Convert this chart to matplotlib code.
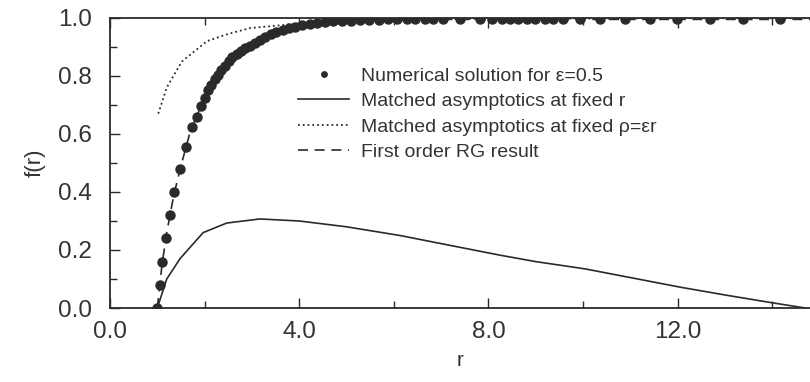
import numpy as np
import matplotlib.pyplot as plt
from matplotlib.ticker import MultipleLocator, FormatStrFormatter
from matplotlib.legend_handler import HandlerLine2D

plt.rcParams['font.family'] = ['Liberation Sans', 'DejaVu Sans']

# numerical solution for eps = 0.5
num_r = [1.00, 1.05, 1.11, 1.19, 1.27, 1.36, 1.47, 1.60, 1.74, 1.83, 1.92, 2.00,
         2.07, 2.14, 2.21, 2.28, 2.35, 2.43, 2.51, 2.59, 2.68, 2.77, 2.86, 2.96,
         3.06, 3.17, 3.28, 3.40, 3.52, 3.65, 3.78, 3.92, 4.07, 4.22, 4.38, 4.55,
         4.72, 4.90, 5.09, 5.28, 5.48, 5.68, 5.88, 6.07, 6.28, 6.45, 6.66, 6.83,
         7.04, 7.40, 7.82, 8.08, 8.29, 8.46, 8.63, 8.82, 8.99, 9.20, 9.37, 9.58,
         9.94, 10.36, 10.89, 11.42, 11.99, 12.68, 13.38, 14.16]
num_f = [0.00, 0.08, 0.16, 0.24, 0.32, 0.40, 0.48, 0.555, 0.625, 0.66, 0.695, 0.725,
         0.75, 0.77, 0.79, 0.805, 0.82, 0.835, 0.85, 0.865, 0.875, 0.885, 0.895, 0.905,
         0.915, 0.925, 0.935, 0.945, 0.952, 0.958, 0.964, 0.97, 0.975, 0.98, 0.983, 0.986,
         0.988, 0.99, 0.991, 0.992, 0.993, 0.994, 0.995, 0.995, 0.995, 0.995, 0.995, 0.995,
         0.995, 0.995, 0.995, 0.995, 0.995, 0.995, 0.995, 0.995, 0.995, 0.995, 0.995, 0.995,
         0.995, 0.995, 0.995, 0.995, 0.995, 0.995, 0.995, 0.995]

# matched asymptotics at fixed r
fixr_r = [1.0, 1.2, 1.48, 1.97, 2.47, 3.17, 4.0, 5.0, 6.13, 7.0, 8.25, 9.0, 10.04, 11.0, 12.05, 13.0, 14.0, 14.7]
fixr_f = [0.0, 0.10, 0.17, 0.26, 0.293, 0.307, 0.30, 0.28, 0.25, 0.222, 0.182, 0.16, 0.135, 0.105, 0.072, 0.045, 0.018, 0.0]

# matched asymptotics at fixed rho = eps r
fixrho_r = [1.02, 1.2, 1.52, 2.05, 2.5, 2.96, 3.95, 5.0, 6.0, 8.0, 10.0, 12.0, 14.8]
fixrho_f = [0.67, 0.76, 0.85, 0.92, 0.945, 0.965, 0.98, 0.99, 0.995, 0.997, 0.998, 0.999, 0.999]

# first order RG result
rg_r = [1.0, 1.1, 1.2, 1.35, 1.5, 1.7, 2.0, 2.5, 3.0, 3.5, 4.0, 5.0, 6.0, 8.0, 10.0, 12.0, 14.8]
rg_f = [0.0, 0.15, 0.26, 0.39, 0.49, 0.61, 0.725, 0.845, 0.91, 0.95, 0.974, 0.99, 0.995, 0.995, 0.995, 0.995, 0.995]


class RightDot(HandlerLine2D):
    # put the legend dot near the text, like the original figure
    def get_xdata(self, legend, xdescent, ydescent, width, height, fontsize):
        xdata = np.array([-xdescent, -xdescent + width])
        return xdata, np.array([-xdescent + 0.9 * width])


c = '#2a2a2a'
fig = plt.figure(figsize=(8.1, 3.82), dpi=100)
ax = fig.add_axes([0.1358, 0.1937, 0.8642, 0.7593])

dots, = ax.plot(num_r, num_f, 'o', color=c, markersize=6.5, label='Numerical solution for ε=0.5', zorder=3)
ax.plot(fixr_r, fixr_f, '-', color=c, lw=1.2, label='Matched asymptotics at fixed r')
ax.plot(fixrho_r, fixrho_f, ':', color=c, lw=1.3, label='Matched asymptotics at fixed ρ=εr')
ax.plot(rg_r, rg_f, '--', color=c, lw=1.2, dashes=(6, 4), label='First order RG result')

ax.set_xlim(0, 14.8)
ax.set_ylim(0, 1.0)
ax.xaxis.set_major_locator(MultipleLocator(4))
ax.xaxis.set_minor_locator(MultipleLocator(2))
ax.yaxis.set_major_locator(MultipleLocator(0.2))
ax.yaxis.set_minor_locator(MultipleLocator(0.1))
ax.xaxis.set_major_formatter(FormatStrFormatter('%.1f'))
ax.yaxis.set_major_formatter(FormatStrFormatter('%.1f'))
ax.tick_params(which='both', direction='in', top=True, right=False, color=c, width=1)
ax.tick_params(which='major', length=7, labelsize=17.5, labelcolor='#333333')
ax.tick_params(which='minor', length=5)
ax.tick_params(axis='x', pad=9)
ax.tick_params(axis='y', pad=13)
ax.spines['right'].set_visible(False)
for s in ['left', 'bottom', 'top']:
    ax.spines[s].set_color(c)
    ax.spines[s].set_linewidth(1.3)

ax.set_xlabel('r', fontsize=15, color='#333333', labelpad=6)
ax.set_ylabel('f(r)', fontsize=16, color='#333333', labelpad=9)

ax.legend(loc='upper left', bbox_to_anchor=(0.269, 0.83), frameon=False, fontsize=14,
          handlelength=2.6, handletextpad=0.6, labelspacing=0.4, borderpad=0,
          borderaxespad=0, numpoints=1, markerscale=0.6, labelcolor='#333333',
          handler_map={dots: RightDot()})

fig.savefig('out.png', dpi=100)
